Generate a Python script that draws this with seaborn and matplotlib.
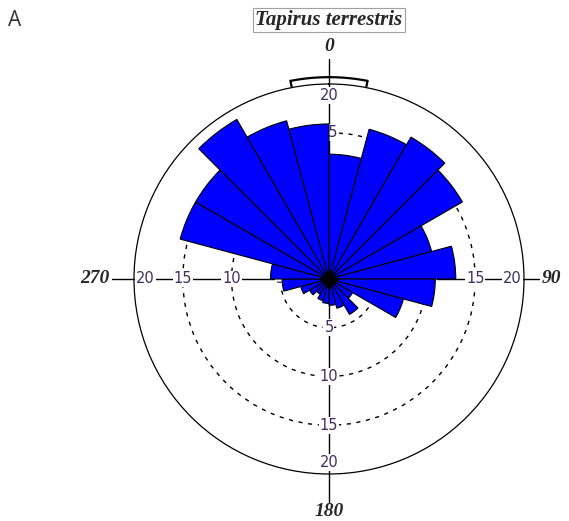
import matplotlib
matplotlib.use("Agg")
import matplotlib.pyplot as plt
import seaborn as sns
import numpy as np

# rose diagram data: 15 degree bins, clockwise from north
bin_start_deg = list(range(0, 360, 15))
counts = [12.8, 15.9, 16.8, 15.8, 10.9, 13.0, 10.9, 7.9,
          2.8, 4.2, 3.1, 2.7, 2.5, 2.3, 1.8, 2.3,
          3.0, 4.8, 6.0, 15.8, 15.8, 18.9, 16.8, 15.9]
ring_values = [5, 10, 15, 20]
cardinal_deg = [0, 90, 180, 270]
cardinal_labels = ["0", "90", "180", "270"]
species = "Tapirus terrestris"
mean_ci_deg = (-11, 11)

sns.set_style("white")
plt.rcParams["font.family"] = ["DejaVu Sans"]

fig = plt.figure(figsize=(5.69, 5.21), dpi=100)
ax = fig.add_axes([0.2355, 0.0902, 0.6854, 0.7486], projection="polar")
ax.set_theta_zero_location("N")
ax.set_theta_direction(-1)
ax.set_ylim(0, 20)
ax.set_xticks([])
ax.set_yticks([5, 10, 15])
ax.set_yticklabels([])
ax.xaxis.grid(False)
ax.yaxis.grid(True, color="black", linestyle=(0, (3, 4)), linewidth=1.0)
ax.spines["polar"].set_linewidth(0.9)
ax.spines["polar"].set_color("black")

# axis lines through the centre
axis_len = {0: 22.6, 90: 21.5, 180: 22.9, 270: 22.3}
for d in cardinal_deg:
    t = np.deg2rad(d)
    ax.plot([t, t], [0, axis_len[d]], color="black", lw=1.0,
            clip_on=False, zorder=1)

# ring labels on each axis, under the bars
label_color = "#3d2f62"
for d in cardinal_deg:
    t = np.deg2rad(d)
    for v in ring_values:
        r = 18.8 if v == 20 else v
        ax.text(t, r, str(v), ha="center", va="center", fontsize=10.5,
                color=label_color, zorder=2,
                bbox=dict(facecolor="white", edgecolor="none", pad=0.6))

# cardinal labels
card_pos = {0: (23.8, "center"), 90: (21.8, "left"),
            180: (23.8, "center"), 270: (22.5, "right")}
for d, lab in zip(cardinal_deg, cardinal_labels):
    r, ha = card_pos[d]
    ax.text(np.deg2rad(d), r, lab, ha=ha, va="center",
            fontsize=14, fontweight="heavy", fontstyle="italic",
            family=["Liberation Serif", "DejaVu Serif"], clip_on=False)

# bars
ax.bar(np.deg2rad(bin_start_deg), counts, width=np.deg2rad(15),
       align="edge", color="#0000ff", edgecolor="black", linewidth=0.8,
       zorder=3)

# centre marker
ax.plot([0], [0], marker="D", ms=9, color="black", zorder=5)

# mean direction confidence bracket
arc_t = np.deg2rad(np.linspace(mean_ci_deg[0], mean_ci_deg[1], 60))
ax.plot(arc_t, np.full(arc_t.size, 20.7), color="black", lw=1.6,
        clip_on=False, zorder=4)
for d in mean_ci_deg:
    t = np.deg2rad(d)
    ax.plot([t, t], [20.7, 20.1], color="black", lw=1.6,
            clip_on=False, zorder=4)

fig.text(329 / 569, 1 - 20 / 521, species, ha="center", va="center",
         fontsize=15, fontweight="bold", fontstyle="italic",
         family=["Liberation Serif", "DejaVu Serif"],
         bbox=dict(facecolor="white", edgecolor="#a0a0a0", linewidth=0.8,
                   pad=1.5))
fig.text(8 / 569, 1 - 21 / 521, "A", ha="left", va="center", fontsize=15,
         color="#333333", family=["Open Sans", "DejaVu Sans"])

fig.savefig("out.png", dpi=100, facecolor="white")
